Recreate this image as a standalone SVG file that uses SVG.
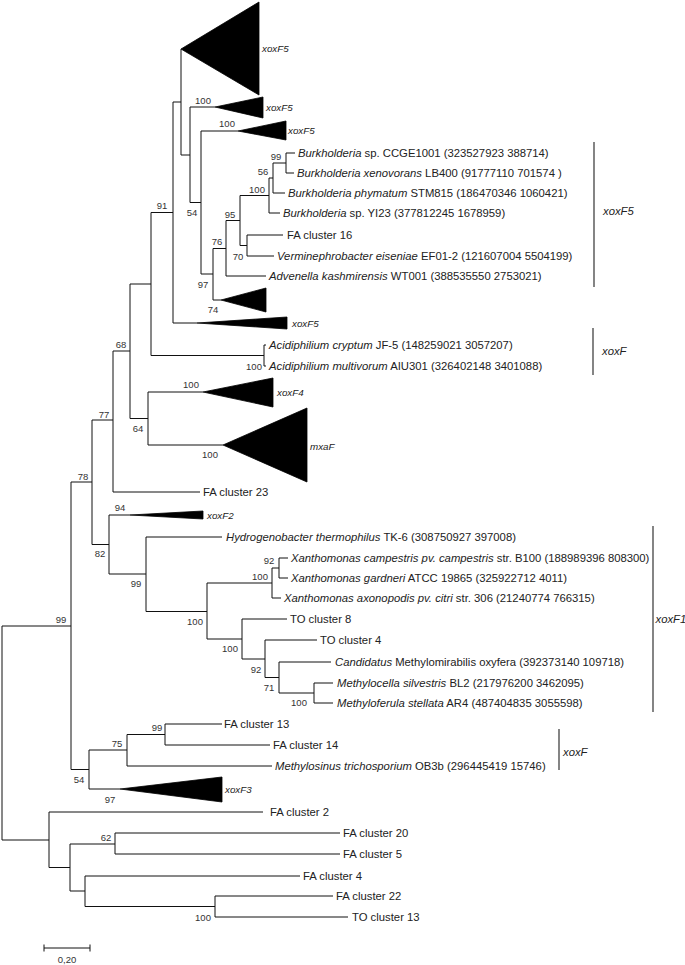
<svg xmlns="http://www.w3.org/2000/svg" width="685" height="965" viewBox="0 0 685 965">
<style>
.br{fill:none;stroke:#111;stroke-width:1}
.tri{fill:#000;stroke:#000;stroke-width:0.8}
.lf{font-family:"Liberation Sans",Arial,sans-serif;font-size:11.3px;fill:#222}
.cl{font-family:"Liberation Sans",Arial,sans-serif;font-size:9.8px;fill:#222;font-style:italic}
.bs{font-family:"Liberation Sans",Arial,sans-serif;font-size:9.5px;fill:#333;text-anchor:middle}
.bar{fill:none;stroke:#333;stroke-width:1.2}
.it{font-style:italic}
</style>
<rect width="685" height="965" fill="#fff"/>
<g id="connectors">
<path class="br" d="M2 626V840M2 626H71M2 840H49
M71 482V769.5M71 482H92M71 769.5H89
M92 420V544.5M92 420H113M92 544.5H109
M113 351V492M113 351H130M113 492H200
M130 284V418.5M130 284H151M130 418.5H148
M151 212.5V355.5M151 212.5H173M151 355.5H264
M173 102V323M173 102H181M173 323H197
M181 49V155M181 155H190
M190 107V202.5M190 107H215M190 202.5H201
M201 131V274M201 131H238M201 274H213
M213 248.5V300M213 248.5H226M213 300H221
M226 220.5V276M226 220.5H240M226 276H266
M240 195.5V245.5M240 195.5H269M240 245.5H247
M269 178V213M269 178H273M269 213H280
M273 163V193M273 163H286M273 193H285
M286 153V173M286 153H295M286 173H294
M247 235V256M247 235H283M247 256H274
M264 345V366M264 345H266M264 366H266
M148 392V445M148 392H203M148 445H223
M109 515V574M109 515H130M109 574H146
M146 537V611.5M146 537H222M146 611.5H207
M207 583V639M207 583H272M207 639H242
M272 568V598M272 568H279M272 598H281
M279 558V578M279 558H288M279 578H288
M242 619V659M242 619H287M242 659H265
M265 640V677.5M265 640H317M265 677.5H279
M279 662V693M279 662H331M279 693H314
M314 683V703M314 683H333M314 703H333
M89 750V789M89 750H127M89 789H120
M127 734.5V766M127 734.5H165M127 766H272
M165 724V745M165 724H222M165 745H270
M49 812V867.5M49 812H263M49 867.5H70
M70 844V891M70 844H115M70 891H85
M115 833V854M115 833H340M115 854H340
M85 876V906.5M85 876H300M85 906.5H215
M215 896V917M215 896H333M215 917H348"/>
</g>
<g id="bootstrap">
<text class="bs" x="203" y="103.5">100</text>
<text class="bs" x="227" y="126.5">100</text>
<text class="bs" x="276" y="159.5">99</text>
<text class="bs" x="263" y="174.5">56</text>
<text class="bs" x="257" y="192.5">100</text>
<text class="bs" x="162" y="208.5">91</text>
<text class="bs" x="192" y="215.5">54</text>
<text class="bs" x="230" y="217.5">95</text>
<text class="bs" x="217" y="244.5">76</text>
<text class="bs" x="238" y="259.5">70</text>
<text class="bs" x="203" y="287.5">97</text>
<text class="bs" x="213" y="312.5">74</text>
<text class="bs" x="121" y="347.5">68</text>
<text class="bs" x="254" y="369.5">100</text>
<text class="bs" x="191" y="387.5">100</text>
<text class="bs" x="104" y="417.5">77</text>
<text class="bs" x="138" y="431.5">64</text>
<text class="bs" x="210" y="457.5">100</text>
<text class="bs" x="83" y="479.5">78</text>
<text class="bs" x="120" y="510.5">94</text>
<text class="bs" x="100" y="556.5">82</text>
<text class="bs" x="269" y="563.5">92</text>
<text class="bs" x="260" y="579.5">100</text>
<text class="bs" x="136" y="586.5">99</text>
<text class="bs" x="61" y="622.5">99</text>
<text class="bs" x="195" y="624.5">100</text>
<text class="bs" x="230" y="651.5">100</text>
<text class="bs" x="256" y="672.5">92</text>
<text class="bs" x="269" y="690.5">71</text>
<text class="bs" x="299" y="705.5">100</text>
<text class="bs" x="157" y="730.5">99</text>
<text class="bs" x="117" y="746.5">75</text>
<text class="bs" x="79" y="782.5">54</text>
<text class="bs" x="110" y="802.5">97</text>
<text class="bs" x="106" y="840.5">62</text>
<text class="bs" x="203" y="920.5">100</text>
</g>
<g id="n-xoxF5-a"><polygon class="tri" points="181,49 259,2 259,95"/><text class="cl" x="262" y="52">xoxF5</text></g>
<g id="n-xoxF5-b"><polygon class="tri" points="215,107 263,97 263,118"/><text class="cl" x="266" y="111">xoxF5</text></g>
<g id="n-xoxF5-c"><polygon class="tri" points="238,131 286,121 286,140"/><text class="cl" x="288" y="134">xoxF5</text></g>
<g id="n-burk-ccge"><text class="lf" x="298" y="157"><tspan class="it">Burkholderia</tspan> sp. CCGE1001 (323527923 388714)</text></g>
<g id="n-burk-xeno"><text class="lf" x="297" y="177"><tspan class="it">Burkholderia xenovorans</tspan> LB400 (91777110 701574 )</text></g>
<g id="n-burk-phym"><text class="lf" x="288" y="197"><tspan class="it">Burkholderia phymatum</tspan> STM815 (186470346 1060421)</text></g>
<g id="n-burk-yi23"><text class="lf" x="283" y="217"><tspan class="it">Burkholderia</tspan> sp. YI23 (377812245 1678959)</text></g>
<g id="n-fa16"><text class="lf" x="287" y="239">FA cluster 16</text></g>
<g id="n-vermi"><text class="lf" x="277" y="260"><tspan class="it">Verminephrobacter eiseniae</tspan> EF01-2 (121607004 5504199)</text></g>
<g id="n-adven"><text class="lf" x="269" y="280"><tspan class="it">Advenella kashmirensis</tspan> WT001 (388535550 2753021)</text></g>
<g id="n-unlabeled"><polygon class="tri" points="221,300 266,288 266,312"/></g>
<g id="n-xoxF5-d"><polygon class="tri" points="197,323 287,317 287,329"/><text class="cl" x="292" y="327">xoxF5</text></g>
<g id="n-acid-cry"><text class="lf" x="269" y="349"><tspan class="it">Acidiphilium cryptum</tspan> JF-5 (148259021 3057207)</text></g>
<g id="n-acid-mul"><text class="lf" x="269" y="370"><tspan class="it">Acidiphilium multivorum</tspan> AIU301 (326402148 3401088)</text></g>
<g id="n-xoxF4"><polygon class="tri" points="203,392 273,378 273,407"/><text class="cl" x="277" y="396">xoxF4</text></g>
<g id="n-mxaF"><polygon class="tri" points="223,445 307,408 307,482"/><text class="cl" x="310" y="450">mxaF</text></g>
<g id="n-fa23"><text class="lf" x="203" y="496">FA cluster 23</text></g>
<g id="n-xoxF2"><polygon class="tri" points="130,515 203,511 203,519"/><text class="cl" x="207" y="519">xoxF2</text></g>
<g id="n-hydro"><text class="lf" x="226" y="541"><tspan class="it">Hydrogenobacter thermophilus</tspan> TK-6 (308750927 397008)</text></g>
<g id="n-xcamp"><text class="lf" x="291" y="562"><tspan class="it">Xanthomonas campestris pv. campestris</tspan> str. B100 (188989396 808300)</text></g>
<g id="n-xgard"><text class="lf" x="291" y="582"><tspan class="it">Xanthomonas gardneri</tspan> ATCC 19865 (325922712 4011)</text></g>
<g id="n-xaxon"><text class="lf" x="284" y="602"><tspan class="it">Xanthomonas axonopodis pv. citri</tspan> str. 306 (21240774 766315)</text></g>
<g id="n-to8"><text class="lf" x="290" y="623">TO cluster 8</text></g>
<g id="n-to4"><text class="lf" x="320" y="644">TO cluster 4</text></g>
<g id="n-cand"><text class="lf" x="335" y="666" textLength="289" lengthAdjust="spacingAndGlyphs"><tspan class="it">Candidatus</tspan> Methylomirabilis oxyfera (392373140 109718)</text></g>
<g id="n-mcella"><text class="lf" x="337" y="687"><tspan class="it">Methylocella silvestris</tspan> BL2 (217976200 3462095)</text></g>
<g id="n-mferula"><text class="lf" x="337" y="707"><tspan class="it">Methyloferula stellata</tspan> AR4 (487404835 3055598)</text></g>
<g id="n-fa13"><text class="lf" x="224" y="728">FA cluster 13</text></g>
<g id="n-fa14"><text class="lf" x="273" y="749">FA cluster 14</text></g>
<g id="n-msinus"><text class="lf" x="275" y="770"><tspan class="it">Methylosinus trichosporium</tspan> OB3b (296445419 15746)</text></g>
<g id="n-xoxF3"><polygon class="tri" points="120,789 222,777 222,802"/><text class="cl" x="225" y="793">xoxF3</text></g>
<g id="n-fa2"><text class="lf" x="270" y="816">FA cluster 2</text></g>
<g id="n-fa20"><text class="lf" x="343" y="837">FA cluster 20</text></g>
<g id="n-fa5"><text class="lf" x="343" y="858">FA cluster 5</text></g>
<g id="n-fa4"><text class="lf" x="303" y="880">FA cluster 4</text></g>
<g id="n-fa22"><text class="lf" x="336" y="900">FA cluster 22</text></g>
<g id="n-to13"><text class="lf" x="352" y="921">TO cluster 13</text></g>
<g id="clade-xoxF5"><path class="bar" d="M594 142V287"/><text class="lf it" x="603" y="215">xoxF5</text></g>
<g id="clade-xoxF-a"><path class="bar" d="M593 328V375"/><text class="lf it" x="602" y="355">xoxF</text></g>
<g id="clade-xoxF1"><path class="bar" d="M653 526V712"/><text class="lf it" x="655.5" y="623" font-size="10.8">xoxF1</text></g>
<g id="clade-xoxF-b"><path class="bar" d="M559 729V770"/><text class="lf it" x="563" y="756">xoxF</text></g>
<g id="scalebar"><path class="br" d="M44 948H90M44 944.5V951.5M90 944.5V951.5"/><text class="bs" x="67" y="963">0,20</text></g>
</svg>
